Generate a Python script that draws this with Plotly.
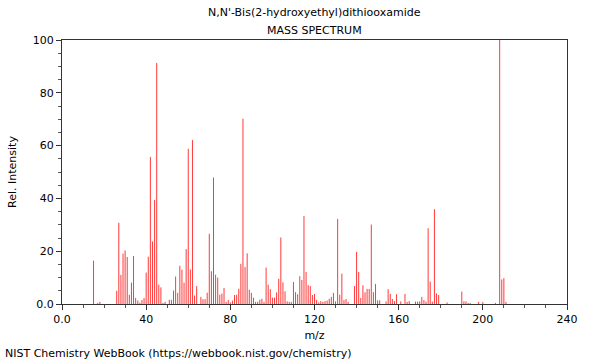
import plotly.graph_objects as go

mz = [15, 17, 18, 26, 27, 28, 29, 30, 31, 32, 33, 34, 35, 36, 37, 38, 39, 40, 41, 42, 43, 44, 45, 46, 47, 48, 49,
      51, 52, 53, 54, 55, 56, 57, 58, 59, 60, 61, 62, 63, 64, 66, 67, 68, 69, 70, 71, 72, 73, 74, 75, 76, 77, 78,
      79, 80, 81, 82, 83, 84, 85, 86, 87, 88, 89, 90, 91, 92, 93, 94, 95, 96, 97, 98, 99, 100, 101, 102, 103, 104,
      105, 106, 107, 108, 109, 110, 111, 112, 113, 114, 115, 116, 117, 118, 119, 120, 121, 122, 123, 124, 125, 126,
      127, 128, 129, 130, 131, 132, 133, 134, 135, 136, 139, 140, 141, 142, 143, 144, 145, 146, 147, 148, 149, 150,
      151, 154, 155, 156, 157, 158, 159, 161, 163, 164, 165, 168, 169, 170, 171, 172, 173, 174, 175, 176, 177, 178,
      179, 183, 190, 191, 192, 193, 194, 198, 200, 206, 208, 209, 210, 211]
intensity = [16.4, 0.4, 0.8, 5.0, 30.8, 11.0, 19.1, 20.3, 17.8, 3.5, 8.1, 18.2, 2.3, 1.3, 0.5, 1.5, 2.3, 11.9, 17.9,
             55.7, 23.7, 39.4, 91.3, 7.3, 6.3, 0.4, 0.8,
             1.6, 1.6, 5.1, 10.4, 4.2, 14.5, 13.0, 8.1, 20.8, 58.8, 13.1, 62.1, 3.2, 6.8, 2.7, 1.8, 1.8, 4.3, 26.6,
             12.4, 47.9, 11.1, 10.0, 3.5, 3.9, 6.1, 0.8,
             1.5, 0.6, 1.3, 3.4, 3.5, 5.8, 15.2, 70.2, 14.0, 19.2, 5.4, 4.2, 2.4, 0.8, 0.8, 1.6, 2.0, 0.8, 13.8, 7.3,
             5.6, 2.4, 2.4, 4.4, 9.6, 25.2,
             8.2, 4.8, 1.0, 0.8, 0.8, 8.3, 4.5, 3.7, 10.5, 9.1, 33.3, 12.1, 7.1, 6.8, 3.4, 3.8, 1.5, 0.6, 1.1, 0.8,
             1.1, 1.3,
             2.0, 2.7, 4.2, 1.0, 32.2, 3.5, 11.5, 1.5, 1.9, 0.8, 6.8, 19.7, 12.1, 2.3, 7.1, 4.4, 5.7, 5.7, 30.1, 4.5,
             7.6, 1.4,
             1.4, 1.0, 5.6, 3.8, 1.9, 1.1, 3.7, 1.0, 3.8, 0.8, 1.1, 0.9, 0.9, 1.0, 2.7, 1.5, 0.9, 28.7, 8.5, 0.9,
             35.9, 4.0,
             3.4, 0.6, 4.7, 1.0, 1.0, 0.4, 0.4, 0.8, 0.8, 0.4, 100.0, 9.3, 9.8, 0.8]

x_tickvals = [0, 40, 80, 120, 160, 200, 240]
x_ticktext = ["0.0", "40", "80", "120", "160", "200", "240"]
y_tickvals = [0, 20, 40, 60, 80, 100]
y_ticktext = ["0.0", "20", "40", "60", "80", "100"]

title_line1 = "N,N'-Bis(2-hydroxyethyl)dithiooxamide"
title_line2 = "MASS SPECTRUM"
footer = "NIST Chemistry WebBook (https://webbook.nist.gov/chemistry)"

FONT = "DejaVu Sans"

# stick spectrum: each peak is a vertical segment from 0 to its intensity (data coords)
xs, ys = [], []
for m, v in zip(mz, intensity):
    xs += [m, m, None]
    ys += [0, v, None]

fig = go.Figure()
fig.add_trace(go.Scatter(x=xs, y=ys, mode="lines",
                         line=dict(color="#ff3a3a", width=1),
                         hoverinfo="skip"))

axis_common = dict(showline=True, linecolor="#333333", linewidth=1, mirror=True,
                   showgrid=False, zeroline=False, ticks="outside", ticklen=5,
                   tickcolor="#333333", tickfont=dict(family=FONT, size=11, color="black"))

fig.update_xaxes(range=[0, 240], tickvals=x_tickvals, ticktext=x_ticktext,
                 minor=dict(ticks="outside", ticklen=3, dtick=10, tick0=0, tickcolor="#555555"),
                 title=dict(text="m/z", font=dict(family=FONT, size=11, color="black"), standoff=6),
                 **axis_common)
fig.update_yaxes(range=[0, 100], tickvals=y_tickvals, ticktext=y_ticktext,
                 minor=dict(ticks="outside", ticklen=3, dtick=5, tick0=0, tickcolor="#555555"),
                 title=dict(text="Rel. Intensity", font=dict(family=FONT, size=11, color="black"), standoff=13),
                 **axis_common)

ph = 360 - 40 - 56
pw = 600 - 62 - 33

fig.update_layout(
    width=600, height=360,
    margin=dict(l=62, r=33, t=40, b=56),
    paper_bgcolor="white", plot_bgcolor="white",
    showlegend=False,
    font=dict(family=FONT, size=11, color="black"),
    annotations=[
        dict(text=title_line1, xref="paper", yref="paper", x=0.5, y=1 + (40 - 13) / ph,
             yanchor="middle", showarrow=False, font=dict(family=FONT, size=11)),
        dict(text=title_line2, xref="paper", yref="paper", x=0.5, y=1 + (40 - 30) / ph,
             yanchor="middle", showarrow=False, font=dict(family=FONT, size=11)),
        dict(text=footer, xref="paper", yref="paper", x=-59 / pw, xanchor="left",
             y=-(353 - 304) / ph, yanchor="middle", showarrow=False, font=dict(family=FONT, size=11)),
    ],
)

fig.write_html("out.html", config={"displayModeBar": False},
               post_script="document.body.style.margin='0';document.body.style.padding='0';")
